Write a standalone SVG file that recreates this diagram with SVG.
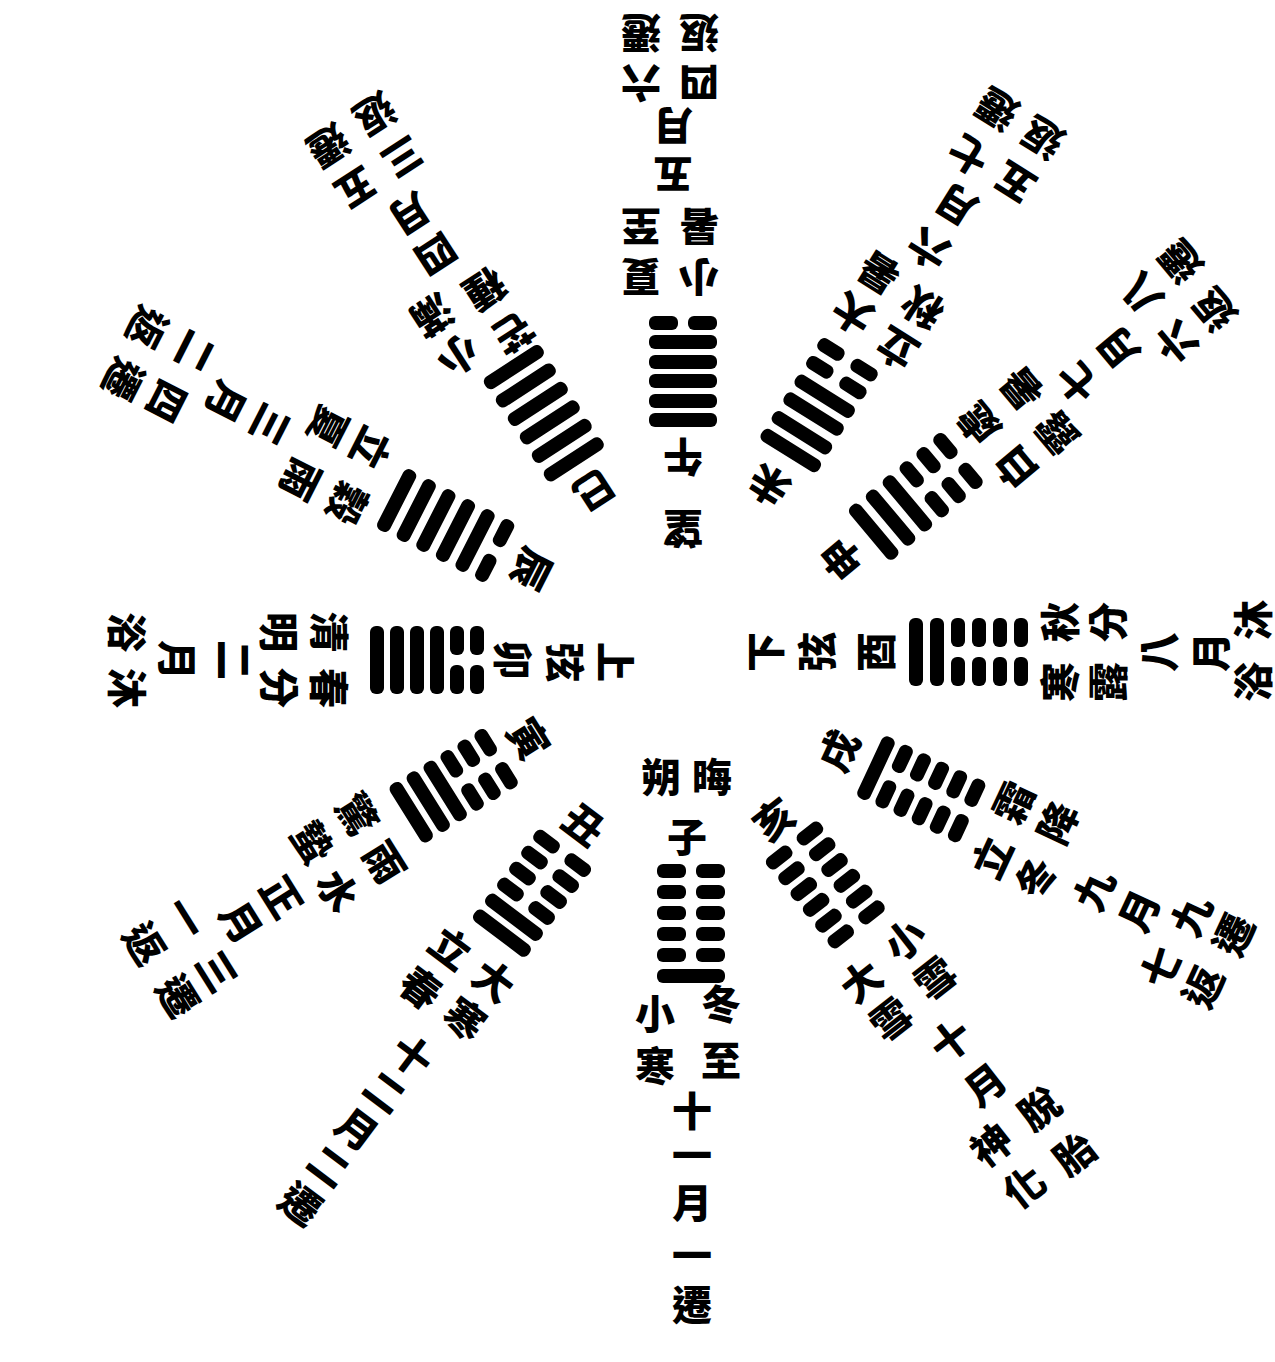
<svg xmlns="http://www.w3.org/2000/svg" xmlns:xlink="http://www.w3.org/1999/xlink" width="1275" height="1362" viewBox="0 0 1275 1362">
<style>
.t{font-family:"Noto Sans CJK TC","Noto Sans CJK SC",sans-serif;font-size:40px;font-weight:900;fill:#000;text-anchor:middle;dominant-baseline:central}
.l{fill:#000}
</style>
<defs>
<g id="yang"><rect class="l" x="-34" y="-7" width="68" height="14" rx="6"/></g>
<g id="yin"><rect class="l" x="-34" y="-7" width="29" height="14" rx="6"/><rect class="l" x="5" y="-7" width="29" height="14" rx="6"/></g>
</defs>
<rect width="1275" height="1362" fill="#fff"/>

<!-- 子 復 -->
<g id="zi" transform="translate(687,835)">
<text class="t"><tspan x="25" y="-60">晦</tspan><tspan x="-26" y="-60">朔</tspan></text>
<text class="t" x="0" y="0">子</text>
<use href="#yin" x="4" y="36"/><use href="#yin" x="4" y="57"/><use href="#yin" x="4" y="78"/><use href="#yin" x="4" y="99"/><use href="#yin" x="4" y="120"/><use href="#yang" x="4" y="141"/>
<text class="t"><tspan x="34" y="167">冬</tspan><tspan x="34" y="223">至</tspan></text>
<text class="t"><tspan x="-32" y="177">小</tspan><tspan x="-32" y="229">寒</tspan></text>
<text class="t"><tspan x="5" y="274">十</tspan><tspan x="5" y="318">一</tspan><tspan x="5" y="366">月</tspan><tspan x="5" y="418">一</tspan><tspan x="5" y="468">遷</tspan></text>
</g>

<!-- 丑 臨 -->
<g id="chou" transform="translate(585,823) rotate(37)">
<text class="t" x="0" y="0">丑</text>
<use href="#yin" x="0" y="38"/><use href="#yin" x="0" y="58"/><use href="#yin" x="0" y="78"/><use href="#yin" x="0" y="98"/><use href="#yang" x="0" y="118"/><use href="#yang" x="0" y="138"/>
<text class="t"><tspan x="22" y="179">大</tspan><tspan x="22" y="227">寒</tspan></text>
<text class="t"><tspan x="-32" y="179">立</tspan><tspan x="-32" y="229">春</tspan></text>
<text class="t"><tspan x="2" y="288">十</tspan><tspan x="2" y="333">二</tspan><tspan x="2" y="380">月</tspan><tspan x="2" y="426">二</tspan><tspan x="2" y="474">遷</tspan></text>
</g>

<!-- 寅 泰 -->
<g id="yin-branch" transform="translate(530,738) rotate(58)">
<text class="t" x="0" y="0">寅</text>
<use href="#yin" x="0" y="40"/><use href="#yin" x="0" y="60"/><use href="#yin" x="0" y="80"/><use href="#yang" x="0" y="100"/><use href="#yang" x="0" y="120"/><use href="#yang" x="0" y="140"/>
<text class="t"><tspan x="28" y="187">雨</tspan><tspan x="28" y="242">水</tspan></text>
<text class="t"><tspan x="-27" y="185">驚</tspan><tspan x="-27" y="238">蟄</tspan></text>
<text class="t"><tspan x="3" y="293">正</tspan><tspan x="3" y="341">月</tspan></text>
<text class="t"><tspan x="32" y="387">三</tspan><tspan x="32" y="434">遷</tspan></text>
<text class="t"><tspan x="-30" y="385">一</tspan><tspan x="-30" y="434">返</tspan></text>
</g>

<!-- 卯 大壯 -->
<g id="mao" transform="translate(515,660) rotate(90)">
<text class="t"><tspan x="2" y="-102">上</tspan><tspan x="2" y="-52">弦</tspan></text>
<text class="t" x="0" y="0">卯</text>
<use href="#yin" x="0" y="38"/><use href="#yin" x="0" y="58"/><use href="#yang" x="0" y="78"/><use href="#yang" x="0" y="98"/><use href="#yang" x="0" y="118"/><use href="#yang" x="0" y="138"/>
<text class="t"><tspan x="28" y="184">春</tspan><tspan x="28" y="234">分</tspan></text>
<text class="t"><tspan x="-28" y="184">清</tspan><tspan x="-28" y="234">明</tspan></text>
<text class="t"><tspan x="0" y="279">二</tspan><tspan x="0" y="336">月</tspan></text>
<text class="t"><tspan x="28" y="386">沐</tspan><tspan x="-28" y="386">浴</tspan></text>
</g>

<!-- 辰 夬 -->
<g id="chen" transform="translate(533,570) rotate(117)">
<text class="t" x="0" y="0">辰</text>
<use href="#yin" x="0" y="43"/><use href="#yang" x="0" y="65"/><use href="#yang" x="0" y="87"/><use href="#yang" x="0" y="109"/><use href="#yang" x="0" y="131"/><use href="#yang" x="0" y="153"/>
<text class="t"><tspan x="25" y="194">穀</tspan><tspan x="25" y="246">雨</tspan></text>
<text class="t"><tspan x="-35" y="198">立</tspan><tspan x="-35" y="246">夏</tspan></text>
<text class="t"><tspan x="-10" y="298">三</tspan><tspan x="-10" y="348">月</tspan></text>
<text class="t"><tspan x="16" y="401">四</tspan><tspan x="16" y="450">遷</tspan></text>
<text class="t"><tspan x="-41" y="398">二</tspan><tspan x="-41" y="452">返</tspan></text>
</g>

<!-- 巳 乾 -->
<g id="si" transform="translate(595,492) rotate(147)">
<text class="t" x="0" y="0">巳</text>
<use href="#yang" x="0" y="39"/><use href="#yang" x="0" y="61"/><use href="#yang" x="0" y="83"/><use href="#yang" x="0" y="105"/><use href="#yang" x="0" y="127"/><use href="#yang" x="0" y="149"/>
<text class="t"><tspan x="40" y="187">小</tspan><tspan x="40" y="235">滿</tspan></text>
<text class="t"><tspan x="-18" y="177">芒</tspan><tspan x="-18" y="228">種</tspan></text>
<text class="t"><tspan x="4" y="284">四</tspan><tspan x="4" y="332">月</tspan></text>
<text class="t"><tspan x="35" y="383">五</tspan><tspan x="35" y="434">遷</tspan></text>
<text class="t"><tspan x="-21" y="383">三</tspan><tspan x="-21" y="435">返</tspan></text>
</g>

<!-- 午 姤 -->
<g id="wu" transform="translate(683,459) rotate(180)">
<text class="t" x="0" y="-72">望</text>
<text class="t" x="0" y="0">午</text>
<use href="#yang" x="0" y="39"/><use href="#yang" x="0" y="58"/><use href="#yang" x="0" y="78"/><use href="#yang" x="0" y="97"/><use href="#yang" x="0" y="117"/><use href="#yin" x="0" y="136"/>
<text class="t"><tspan x="42" y="180">夏</tspan><tspan x="42" y="230">至</tspan></text>
<text class="t"><tspan x="-16" y="180">小</tspan><tspan x="-16" y="230">暑</tspan></text>
<text class="t"><tspan x="10" y="282">五</tspan><tspan x="10" y="331">月</tspan></text>
<text class="t"><tspan x="42" y="374">六</tspan><tspan x="42" y="424">遷</tspan></text>
<text class="t"><tspan x="-16" y="374">四</tspan><tspan x="-16" y="424">返</tspan></text>
</g>

<!-- 未 遯 -->
<g id="wei" transform="translate(768,487) rotate(212)">
<text class="t" x="0" y="0">未</text>
<use href="#yang" x="0" y="43"/><use href="#yang" x="0" y="64"/><use href="#yang" x="0" y="86"/><use href="#yang" x="0" y="107"/><use href="#yin" x="0" y="129"/><use href="#yin" x="0" y="150"/>
<text class="t"><tspan x="20" y="190">大</tspan><tspan x="20" y="238">暑</tspan></text>
<text class="t"><tspan x="-36" y="184">立</tspan><tspan x="-36" y="232">秋</tspan></text>
<text class="t"><tspan x="-10" y="285">六</tspan><tspan x="-10" y="337">月</tspan></text>
<text class="t"><tspan x="6" y="386">七</tspan><tspan x="6" y="440">遷</tspan></text>
<text class="t"><tspan x="-48" y="387">五</tspan><tspan x="-48" y="440">返</tspan></text>
</g>

<!-- 申 否 -->
<g id="shen" transform="translate(840,560) rotate(230)">
<text class="t" x="0" y="0">申</text>
<use href="#yang" x="0" y="44"/><use href="#yang" x="0" y="66"/><use href="#yang" x="0" y="88"/><use href="#yin" x="0" y="110"/><use href="#yin" x="0" y="132"/><use href="#yin" x="0" y="154"/>
<text class="t"><tspan x="15" y="192">處</tspan><tspan x="15" y="247">暑</tspan></text>
<text class="t"><tspan x="-42" y="192">白</tspan><tspan x="-42" y="246">露</tspan></text>
<text class="t"><tspan x="-16" y="294">七</tspan><tspan x="-16" y="347">月</tspan></text>
<text class="t"><tspan x="10" y="400">八</tspan><tspan x="10" y="451">遷</tspan></text>
<text class="t"><tspan x="-49" y="396">六</tspan><tspan x="-49" y="446">返</tspan></text>
</g>

<!-- 酉 觀 -->
<g id="you" transform="translate(874,652) rotate(-90)">
<text class="t"><tspan x="0" y="-111">下</tspan><tspan x="0" y="-59">弦</tspan></text>
<text class="t" x="0" y="0">酉</text>
<use href="#yang" x="0" y="42"/><use href="#yang" x="0" y="63"/><use href="#yin" x="0" y="84"/><use href="#yin" x="0" y="105"/><use href="#yin" x="0" y="126"/><use href="#yin" x="0" y="147"/>
<text class="t"><tspan x="30" y="184">秋</tspan><tspan x="30" y="232">分</tspan></text>
<text class="t"><tspan x="-30" y="184">寒</tspan><tspan x="-30" y="232">露</tspan></text>
<text class="t"><tspan x="0" y="283">八</tspan><tspan x="0" y="335">月</tspan></text>
<text class="t"><tspan x="32" y="377">沐</tspan><tspan x="-30" y="377">浴</tspan></text>
</g>

<!-- 戌 剝 -->
<g id="xu" transform="translate(837,750) rotate(-65)">
<text class="t" x="0" y="0">戌</text>
<use href="#yang" x="0" y="43"/><use href="#yin" x="0" y="63"/><use href="#yin" x="0" y="83"/><use href="#yin" x="0" y="103"/><use href="#yin" x="0" y="123"/><use href="#yin" x="0" y="143"/>
<text class="t"><tspan x="27" y="180">霜</tspan><tspan x="27" y="229">降</tspan></text>
<text class="t"><tspan x="-32" y="184">立</tspan><tspan x="-32" y="232">冬</tspan></text>
<text class="t"><tspan x="-18" y="290">九</tspan><tspan x="-18" y="340">月</tspan></text>
<text class="t"><tspan x="0" y="389">九</tspan><tspan x="0" y="436">遷</tspan></text>
<text class="t"><tspan x="-60" y="383">七</tspan><tspan x="-60" y="430">返</tspan></text>
</g>

<!-- 亥 坤 -->
<g id="hai" transform="translate(773,818) rotate(-38)">
<text class="t" x="0" y="0">亥</text>
<use href="#yin" x="0" y="35"/><use href="#yin" x="0" y="55"/><use href="#yin" x="0" y="75"/><use href="#yin" x="0" y="95"/><use href="#yin" x="0" y="115"/><use href="#yin" x="0" y="135"/>
<text class="t"><tspan x="29" y="175">小</tspan><tspan x="29" y="224">雪</tspan></text>
<text class="t"><tspan x="-31" y="181">大</tspan><tspan x="-31" y="229">雪</tspan></text>
<text class="t"><tspan x="3" y="283">十</tspan><tspan x="3" y="339">月</tspan></text>
<text class="t"><tspan x="31" y="391">脫</tspan><tspan x="31" y="448">胎</tspan></text>
<text class="t"><tspan x="-29" y="390">神</tspan><tspan x="-29" y="443">化</tspan></text>
</g>
</svg>
